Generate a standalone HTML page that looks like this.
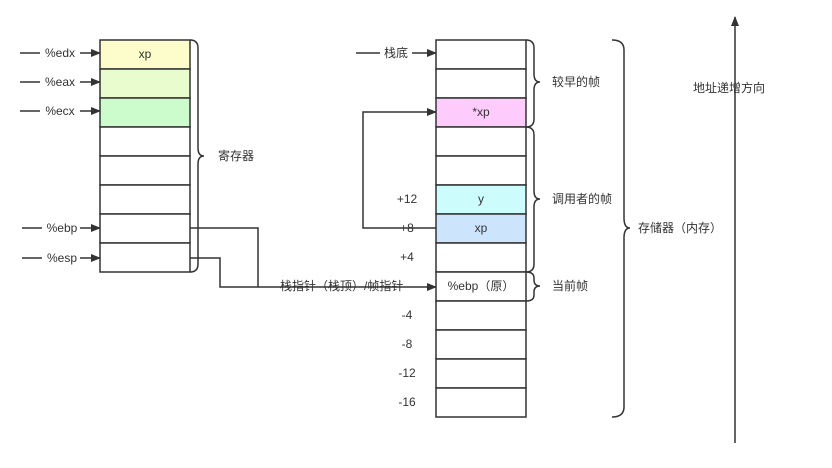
<!DOCTYPE html>
<html><head><meta charset="utf-8"><style>
body{margin:0;background:#fff}
svg text{font-family:"Liberation Sans","Noto Sans CJK SC",sans-serif;font-size:12px;fill:#333}
</style></head><body>
<svg width="832" height="463" viewBox="0 0 832 463" xmlns="http://www.w3.org/2000/svg">
<defs><marker id="a" markerWidth="10" markerHeight="8" refX="9" refY="4" orient="auto" markerUnits="userSpaceOnUse"><path d="M0,0 L10,4 L0,8 z" fill="#333"/></marker></defs>
<g stroke="#333" stroke-width="1.5">
<rect x="100" y="40" width="90" height="29" fill="#fdfccb"/>
<rect x="100" y="69" width="90" height="29" fill="#e8fcce"/>
<rect x="100" y="98" width="90" height="29" fill="#ccfccc"/>
<rect x="100" y="127" width="90" height="29" fill="#fff"/>
<rect x="100" y="156" width="90" height="29" fill="#fff"/>
<rect x="100" y="185" width="90" height="29" fill="#fff"/>
<rect x="100" y="214" width="90" height="29" fill="#fff"/>
<rect x="100" y="243" width="90" height="29" fill="#fff"/>

<rect x="436" y="40" width="90" height="29" fill="#fff"/>
<rect x="436" y="69" width="90" height="29" fill="#fff"/>
<rect x="436" y="98" width="90" height="29" fill="#fdccfc"/>
<rect x="436" y="127" width="90" height="29" fill="#fff"/>
<rect x="436" y="156" width="90" height="29" fill="#fff"/>
<rect x="436" y="185" width="90" height="29" fill="#ccfcfc"/>
<rect x="436" y="214" width="90" height="29" fill="#cce4fc"/>
<rect x="436" y="243" width="90" height="29" fill="#fff"/>
<rect x="436" y="272" width="90" height="29" fill="#fff"/>
<rect x="436" y="301" width="90" height="29" fill="#fff"/>
<rect x="436" y="330" width="90" height="29" fill="#fff"/>
<rect x="436" y="359" width="90" height="29" fill="#fff"/>
<rect x="436" y="388" width="90" height="29" fill="#fff"/>
</g>
<g stroke="#333" stroke-width="1.5" fill="none">
<path d="M20,53H100" marker-end="url(#a)"/>
<path d="M20,82H100" marker-end="url(#a)"/>
<path d="M20,111H100" marker-end="url(#a)"/>
<path d="M22,228H100" marker-end="url(#a)"/>
<path d="M22,258H100" marker-end="url(#a)"/>
<path d="M356,53H436" marker-end="url(#a)"/>
<path d="M190,228H258V287" />
<path d="M190,258H220V287H436" marker-end="url(#a)"/>
<path d="M436,228H363V112H436" marker-end="url(#a)"/>
<path d="M735,443V17" marker-end="url(#a)"/>
<path d="M190,40q8,0 8,8v100q0,8 6,8q-6,0 -6,8v100q0,8 -8,8"/>
<path d="M526,40q8,0 8,8v26q0,8 6,8q-6,0 -6,8v29q0,8 -8,8"/>
<path d="M526,127q8,0 8,8v56q0,8 6,8q-6,0 -6,8v57q0,8 -8,8"/>
<path d="M526,272q8,0 8,6v2q0,6 6,6q-6,0 -6,6v3q0,6 -8,6"/>
<path d="M612,40q12,0 12,10v168q0,10 6,10q-6,0 -6,10v169q0,10 -12,10"/>
</g>
<g fill="#fff">
<rect x="40" y="45" width="40" height="16"/><rect x="40" y="74" width="40" height="16"/><rect x="40" y="103" width="40" height="16"/>
<rect x="42" y="220" width="38" height="16"/><rect x="42" y="250" width="38" height="16"/><rect x="380" y="45" width="32" height="16"/>
</g>
<text x="60" y="57" text-anchor="middle">%edx</text>
<text x="60" y="86" text-anchor="middle">%eax</text>
<text x="60" y="115" text-anchor="middle">%ecx</text>
<text x="62" y="232" text-anchor="middle">%ebp</text>
<text x="62" y="262" text-anchor="middle">%esp</text>
<text x="396" y="57" text-anchor="middle">栈底</text>
<text x="145" y="58" text-anchor="middle">xp</text>
<text x="218" y="160">寄存器</text>
<text x="481" y="116" text-anchor="middle">*xp</text>
<text x="481" y="203" text-anchor="middle">y</text>
<text x="481" y="232" text-anchor="middle">xp</text>
<text x="481" y="290" text-anchor="middle">%ebp（原）</text>
<text x="407" y="203" text-anchor="middle">+12</text>
<text x="407" y="232" text-anchor="middle">+8</text>
<text x="407" y="261" text-anchor="middle">+4</text>
<text x="407" y="319" text-anchor="middle">-4</text>
<text x="407" y="348" text-anchor="middle">-8</text>
<text x="407" y="377" text-anchor="middle">-12</text>
<text x="407" y="406" text-anchor="middle">-16</text>
<text x="280" y="290">栈指针（栈顶）/帧指针</text>
<text x="552" y="86">较早的帧</text>
<text x="552" y="203">调用者的帧</text>
<text x="552" y="290">当前帧</text>
<text x="638" y="232">存储器（内存）</text>
<text x="693" y="92">地址递增方向</text>
</svg>
</body></html>
